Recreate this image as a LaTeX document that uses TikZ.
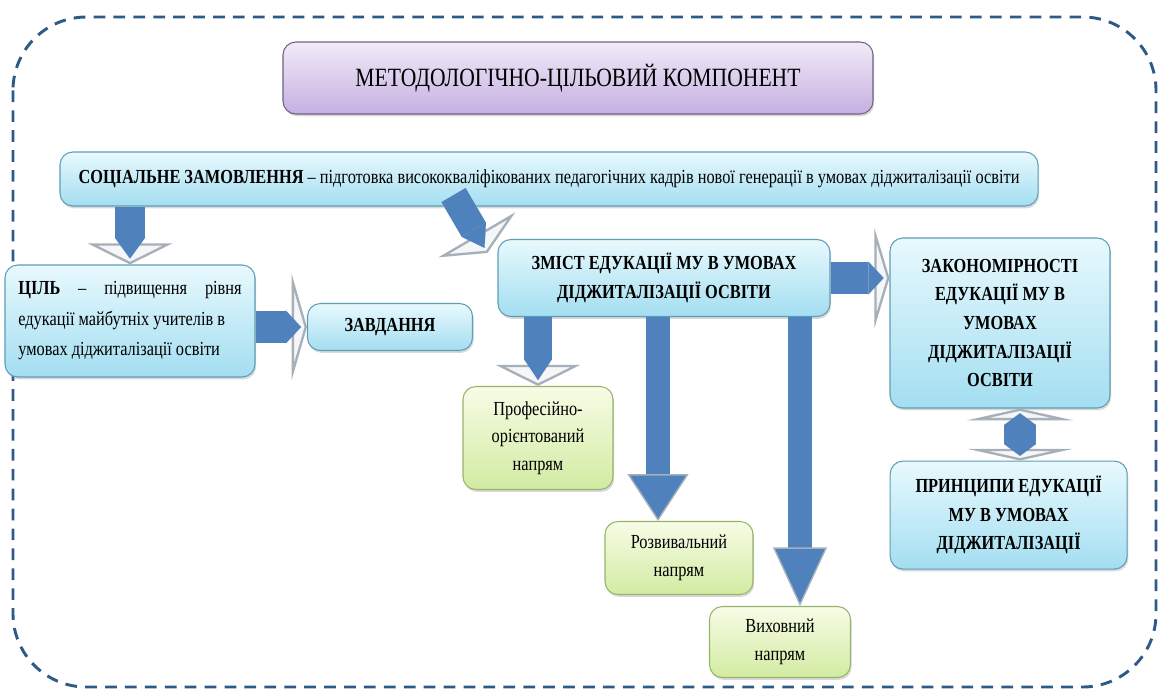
\documentclass[tikz,border=0pt]{standalone}
\usepackage{fontspec}
\setmainfont{Liberation Serif}[FakeStretch=0.82]
\usetikzlibrary{positioning,shadows,arrows.meta}

\definecolor{frameblue}{HTML}{2E5A87}
\definecolor{arrowblue}{HTML}{4F81BD}
\definecolor{headgray}{HTML}{A7AFB8}
\definecolor{headfill}{HTML}{F4F6F8}
\definecolor{cyantop}{HTML}{E8F9FD}
\definecolor{cyanbot}{HTML}{A3DEF1}
\definecolor{cyanline}{HTML}{5E9DB5}
\definecolor{greentop}{HTML}{F7FCE6}
\definecolor{greenbot}{HTML}{D2EBA2}
\definecolor{greenline}{HTML}{98B36B}
\definecolor{violettop}{HTML}{F2EBF8}
\definecolor{violetbot}{HTML}{C5AFE1}
\definecolor{violetline}{HTML}{6F6380}

\tikzset{
  frame/.style={draw=frameblue, line width=2.5pt, dash pattern=on 10pt off 7pt, rounded corners=2.2cm},
  box/.style={rounded corners=11pt, line width=0.9pt, align=center, inner sep=2pt,
    drop shadow={shadow xshift=1pt, shadow yshift=-2pt, opacity=0.3}},
  bluebox/.style={box, draw=cyanline, top color=cyantop, bottom color=cyanbot,
    font=\fontsize{17}{24.5}\selectfont\bfseries},
  greenbox/.style={box, draw=greenline, top color=greentop, bottom color=greenbot,
    font=\fontsize{17}{23.5}\selectfont},
  violetbox/.style={box, draw=violetline, top color=violettop, bottom color=violetbot,
    font=\fontsize{22.5}{26}\selectfont},
  blockarrow/.style n args={3}{draw=white, line width=#1,
    -{Triangle[length=#2, width=#3, line width'=2pt, color=headgray, fill=headfill]},
    postaction={draw=arrowblue, line width=#1, shorten >=5pt,
      -{Triangle[length=#2, width=#1, line width'=0.1pt, fill=arrowblue]}}},
  blockboth/.style n args={3}{draw=white, line width=#1,
    {Triangle[length=#2, width=#3, line width'=2pt, color=headgray, fill=headfill]}-{Triangle[length=#2, width=#3, line width'=2pt, color=headgray, fill=headfill]},
    postaction={draw=arrowblue, line width=#1, shorten >=4pt, shorten <=4pt,
      {Triangle[length=#2, width=#1, line width'=0.1pt, fill=arrowblue]}-{Triangle[length=#2, width=#1, line width'=0.1pt, fill=arrowblue]}}},
  bluearrow/.style n args={3}{draw=arrowblue, line width=#1,
    -{Triangle[length=#2, width=#3, line width'=1.2pt, color=headgray, fill=arrowblue]}},
}

\begin{document}
\begin{tikzpicture}[x=0.03cm, y=-0.03cm]
\useasboundingbox (0,0) rectangle (1158,690);
\draw[frame] (13,17) rectangle (1156,687);

\node[violetbox, minimum width=17.7cm, minimum height=2.16cm] (title) at (578,78) {МЕТОДОЛОГІЧНО-ЦІЛЬОВИЙ КОМПОНЕНТ};
\node[bluebox, font=\fontsize{17}{24}\selectfont, minimum width=29.34cm, minimum height=1.62cm] (soc) at (549,179)
  {\textbf{СОЦІАЛЬНЕ ЗАМОВЛЕННЯ} – підготовка висококваліфікованих педагогічних кадрів нової генерації в умовах діджиталізації освіти};
\node[bluebox, font=\fontsize{17}{26}\selectfont, text width=6.7cm, align=flush left, inner xsep=0.4cm, minimum height=3.36cm] (cil) at (130,321)
  {\textbf{ЦІЛЬ} \hfill – \hfill підвищення \hfill рівня\\едукації майбутніх учителів в\\умовах діджиталізації освіти};
\node[bluebox, minimum width=4.95cm, minimum height=1.41cm] (zav) at (390,327) {ЗАВДАННЯ};
\node[bluebox, minimum width=9.96cm, minimum height=2.31cm] (zmist) at (664,278) {ЗМІСТ ЕДУКАЦІЇ МУ В УМОВАХ\\ДІДЖИТАЛІЗАЦІЇ ОСВІТИ};
\node[bluebox, minimum width=6.6cm, minimum height=5.1cm] (zak) at (1000,323)
  {ЗАКОНОМІРНОСТІ\\ЕДУКАЦІЇ МУ В\\УМОВАХ\\ДІДЖИТАЛІЗАЦІЇ\\ОСВІТИ};
\node[bluebox, minimum width=7.11cm, minimum height=3.24cm] (prin) [below=1.56cm of zak, xshift=0.26cm] {ПРИНЦИПИ ЕДУКАЦІЇ\\МУ В УМОВАХ\\ДІДЖИТАЛІЗАЦІЇ};

\node[greenbox, minimum width=4.5cm, minimum height=3.09cm] (prof) at (538,438) {Професійно-\\орієнтований\\напрям};
\node[greenbox, minimum width=4.44cm, minimum height=2.19cm] (rozv) at (679,558) {Розвивальний\\напрям};
\node[greenbox, minimum width=4.23cm, minimum height=2.13cm] (vyh) at (780,642) {Виховний\\напрям};

% block arrows
\draw[blockarrow={26pt}{18pt}{72pt}] (soc.south -| cil.north) -- (cil.north);
\draw[blockarrow={28pt}{13pt}{90pt}] (zav.west -| cil.east) -- (zav.west);
\draw[blockarrow={24pt}{18pt}{76pt}] ([shift={(-44,-44)}]zmist.north west) -- ([shift={(-10,14)}]zmist.north west);
\draw[blockarrow={28pt}{13pt}{86pt}] (zmist.east) -- (zak.west |- zmist.east);
\draw[blockarrow={24pt}{18pt}{72pt}] (prof.north |- zmist.south) -- (prof.north);
\draw[bluearrow={21pt}{40pt}{52pt}] ([xshift=-0.63cm]rozv.north |- zmist.south) -- ([xshift=-0.63cm]rozv.north);
\draw[bluearrow={21pt}{50pt}{46pt}] ([xshift=0.6cm]vyh.north |- zmist.south) -- ([xshift=0.6cm]vyh.north);
\draw[blockboth={27pt}{10pt}{90pt}] ([xshift=0.6cm]zak.south) -- ([xshift=0.6cm]zak.south |- prin.north);
\end{tikzpicture}
\end{document}
